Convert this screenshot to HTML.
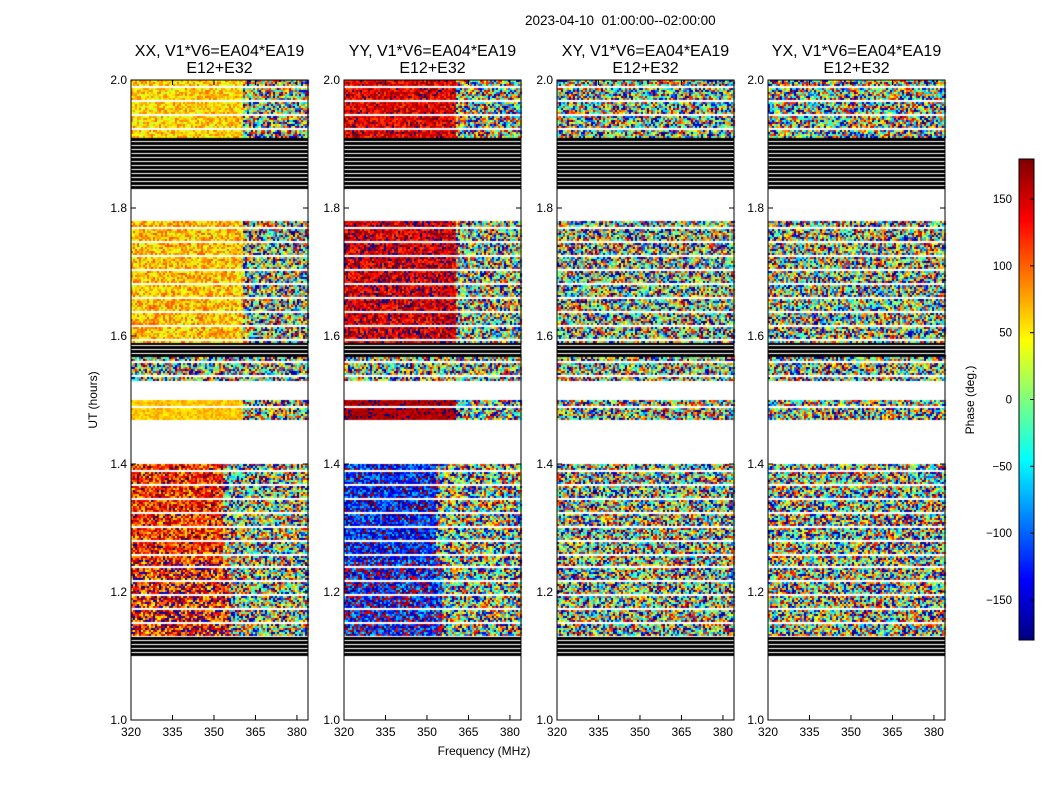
<!DOCTYPE html>
<html><head><meta charset="utf-8">
<style>
body{margin:0;background:#fff;width:1050px;height:800px;position:relative;overflow:hidden;font-family:"Liberation Sans",sans-serif;}
.t{position:absolute;font-size:13.5px;color:#000;white-space:nowrap}
canvas{position:absolute}
</style></head>
<body>
<div class="t" style="left:525px;top:13px">2023-04-10&nbsp;&nbsp;01:00:00--02:00:00</div>
<canvas id="cv" width="1050" height="800" style="left:0;top:0"></canvas>
<svg id="ax" width="1050" height="800" style="position:absolute;left:0;top:0"></svg>
<script>
// ---- data ----
const panelTitles = ["XX, V1*V6=EA04*EA19", "YY, V1*V6=EA04*EA19", "XY, V1*V6=EA04*EA19", "YX, V1*V6=EA04*EA19"];
const baselineLabel = "E12+E32";
const yTicks = [1.0, 1.2, 1.4, 1.6, 1.8, 2.0];
const xTicks = [320, 335, 350, 365, 380];
const cbTicks = [150, 100, 50, 0, -50, -100, -150];
// time bands (hours) and kind: 'd' data, 'b' flagged black stripes
const bandStart = [1.10, 1.13, 1.25, 1.47, 1.53, 1.57, 1.59, 1.83, 1.91];
const bandEnd   = [1.13, 1.25, 1.40, 1.50, 1.57, 1.59, 1.78, 1.91, 2.00];
const bandKind  = ['b','d','d','d','d','b','d','b','d'];
// per panel: low-frequency phase (null = mixed), high-frequency phase (null = mixed), split frequency
const xxLow  = [0, 130, 120, 65, null, 0, 65, 0, 60];
const yyLow  = [0, -140, -130, 165, null, 0, 150, 0, 145];
const xyLow  = [0, null, null, null, null, 0, null, 0, null];
const yxLow  = [0, null, null, null, null, 0, null, 0, null];
const lowSpread = [0, 90, 70, 20, 0, 0, 45, 0, 40];
const splitFreq = [360, 355, 353, 360, 355, 360, 360, 360, 360];
const panelLow = [xxLow, yyLow, xyLow, yxLow];
const mixPalette = [-150, -60, 10, 70, 150, -100, 40, 120, -20, -170, 90, -30];

// ---- layout ----
const panelX = [131, 344, 557, 768], pw = 177, top0 = 80, bot = 720;
const fmin = 320, fmax = 384;
const yPix = h => bot - (h - 1.0) * (bot - top0);
const xPix = (p, f) => panelX[p] + (f - fmin) / (fmax - fmin) * pw;
function jet(v){
  const r=Math.min(1,Math.max(0,1.5-Math.abs(4*v-3))), g=Math.min(1,Math.max(0,1.5-Math.abs(4*v-2))), b=Math.min(1,Math.max(0,1.5-Math.abs(4*v-1)));
  return `rgb(${r*255|0},${g*255|0},${b*255|0})`;
}
const phaseColor = ph => jet((ph + 180) / 360);
function hash(a, b){ let h = (a * 374761393 + b * 668265263) | 0; h = (h ^ (h >>> 13)) * 1274126177 | 0; return ((h ^ (h >>> 16)) >>> 0) % 1000 / 1000; }

const ctx = document.getElementById('cv').getContext('2d');
for (let p = 0; p < 4; p++) {
  const low = panelLow[p];
  for (let b = 0; b < bandStart.length; b++) {
    const y0 = Math.round(yPix(bandEnd[b])), y1 = Math.round(yPix(bandStart[b]));
    if (bandKind[b] === 'b') {
      for (let y = y0; y < y1; y += 4) { ctx.fillStyle = '#000'; ctx.fillRect(panelX[p], y, pw, 3); }
      continue;
    }
    const xs = xPix(p, splitFreq[b]);
    let j = 0;
    for (let y = y0; y < y1; y += 2, j++) {
      if (j % 7 === 3) continue; // flagged rows (white)
      let i = 0;
      for (let x = panelX[p]; x < panelX[p] + pw; x += 2, i++) {
        const r = hash(i + p * 1000 + b * 37, j + b * 211);
        let ph;
        if (x < xs && low[b] !== null) {
          ph = low[b] + (r - 0.5) * 2 * lowSpread[b];
          if (ph > 180) ph -= 360; if (ph < -180) ph += 360;
        } else {
          ph = mixPalette[Math.floor(r * mixPalette.length)];
        }
        ctx.fillStyle = phaseColor(Math.max(-180, Math.min(180, ph)));
        ctx.fillRect(x, y, 2, 2);
      }
    }
  }
}
// colorbar
const cbX = 1019, cbW = 15, cbT = 159, cbB = 640;
for (let y = cbT; y < cbB; y++) { ctx.fillStyle = jet(1 - (y - cbT) / (cbB - cbT)); ctx.fillRect(cbX, y, cbW, 1); }

// ---- axes SVG ----
const svg = document.getElementById('ax'), NS = 'http://www.w3.org/2000/svg';
function mk(tag, attrs, txt){ const e=document.createElementNS(NS,tag); for(const k in attrs) e.setAttribute(k,attrs[k]); if(txt!==undefined) e.textContent=txt; svg.appendChild(e); return e; }
const tf = {'font-family':'Liberation Sans, sans-serif','font-size':'12'};
for (let p = 0; p < 4; p++) {
  const fr = mk('rect', {x:panelX[p], y:top0, width:pw, height:bot-top0, fill:'none', stroke:'#000'});
  
  
  const cx = panelX[p] + pw/2;
  const t1 = mk('text', {x:cx, y:56, 'text-anchor':'middle', 'font-size':'16', 'font-family':'Liberation Sans, sans-serif'}, panelTitles[p]);
  
  
  const t2 = mk('text', {x:cx, y:73, 'text-anchor':'middle', 'font-size':'16', 'font-family':'Liberation Sans, sans-serif'}, baselineLabel);
  
  
  yTicks.forEach(v => {
    const y = yPix(v);
    mk('line', {x1:panelX[p], x2:panelX[p]+5, y1:y, y2:y, stroke:'#000'});
    mk('line', {x1:panelX[p]+pw-5, x2:panelX[p]+pw, y1:y, y2:y, stroke:'#000'});
    const l = mk('text', Object.assign({x:panelX[p]-4, y:y+4, 'text-anchor':'end'}, tf), v.toFixed(1));
    
    
  });
  xTicks.forEach(v => {
    const x = xPix(p, v);
    mk('line', {x1:x, x2:x, y1:bot, y2:bot-5, stroke:'#000'});
    mk('line', {x1:x, x2:x, y1:top0, y2:top0+5, stroke:'#000'});
    const l = mk('text', Object.assign({x:x, y:736, 'text-anchor':'middle'}, tf), String(v));
    
    
  });
}
const yl = mk('text', Object.assign({x:97, y:400, 'text-anchor':'middle', transform:'rotate(-90 97 400)'}, tf), 'UT (hours)');


const xl = mk('text', Object.assign({x:484, y:755, 'text-anchor':'middle'}, tf), 'Frequency (MHz)');


const cbf = mk('rect', {x:cbX, y:cbT, width:cbW, height:cbB-cbT, fill:'none', stroke:'#000'});


cbTicks.forEach(v => {
  const y = cbT + (180 - v) / 360 * (cbB - cbT);
  mk('line', {x1:cbX+cbW-4, x2:cbX+cbW, y1:y, y2:y, stroke:'#000'});
  const l = mk('text', {x:1012, y:y+4, 'text-anchor':'end', 'font-size':'11.5', 'font-family':'Liberation Sans, sans-serif'}, v < 0 ? '\u2212' + (-v) : String(v));
  
  
});
const cl = mk('text', Object.assign({x:974, y:400, 'text-anchor':'middle', transform:'rotate(-90 974 400)'}, tf), 'Phase (deg.)');


</script>
</body></html>
